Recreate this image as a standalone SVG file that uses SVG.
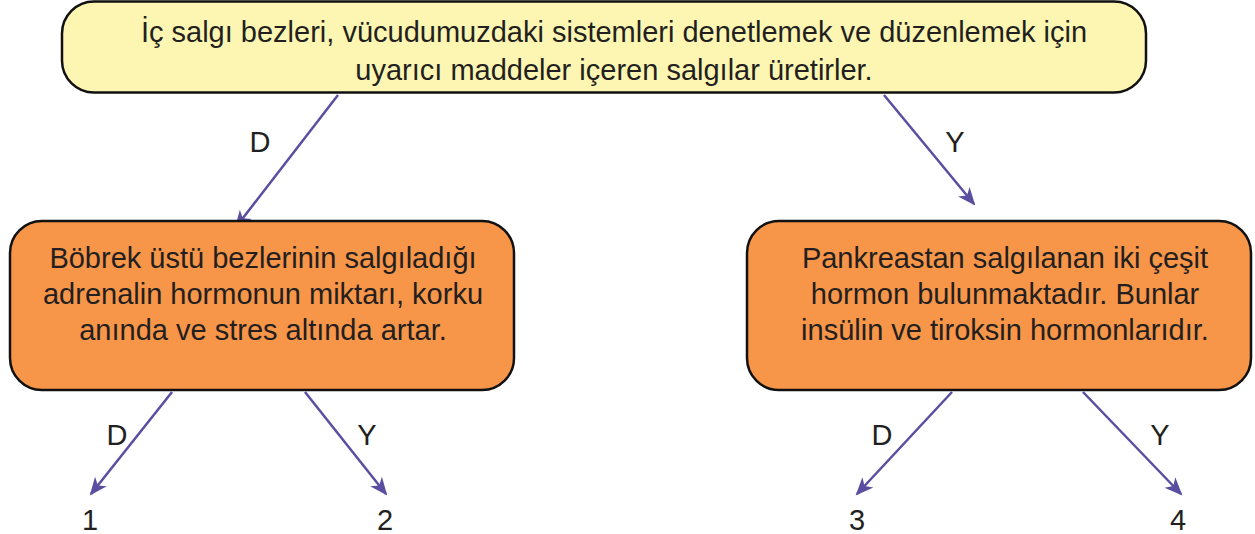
<svg xmlns="http://www.w3.org/2000/svg" width="1255" height="534" viewBox="0 0 1255 534">
<style>
text{font-family:"Liberation Sans",Arial,sans-serif;fill:#231f20}
.box{stroke:#111;stroke-width:2.5}
.t{font-size:29px;text-anchor:middle}
.l{font-size:29px;text-anchor:middle}
.c{stroke:#5a4ea0;stroke-width:2.5;fill:none;marker-end:url(#ah)}
</style>
<defs>
<marker id="ah" viewBox="-18 -8 20 16" refX="0" refY="0" markerWidth="20" markerHeight="16" markerUnits="userSpaceOnUse" orient="auto" overflow="visible">
<path d="M2,0 L-16,-7.5 L-11,0 L-16,7.5 Z" fill="#5a4ea0"/>
</marker>
</defs>
<g id="connectors">
<line class="c" x1="338" y1="95" x2="236" y2="227"/>
<line class="c" x1="884" y1="95" x2="974" y2="204"/>
<line class="c" x1="172" y1="392" x2="91" y2="494"/>
<line class="c" x1="305" y1="392" x2="386" y2="494"/>
<line class="c" x1="952" y1="392" x2="857" y2="494"/>
<line class="c" x1="1083" y1="392" x2="1181" y2="494"/>
<text class="l" x="260" y="152">D</text>
<text class="l" x="955" y="152">Y</text>
<text class="l" x="117" y="445">D</text>
<text class="l" x="367" y="445">Y</text>
<text class="l" x="882" y="445">D</text>
<text class="l" x="1160" y="445">Y</text>
</g>
<g id="top">
<rect class="box" x="62" y="1.5" width="1084" height="91" rx="32" fill="#fdf6b3"/>
<text class="t" x="614" y="42">İç salgı bezleri, vücudumuzdaki sistemleri denetlemek ve düzenlemek için</text>
<text class="t" x="614" y="80">uyarıcı maddeler içeren salgılar üretirler.</text>
</g>
<g id="left">
<rect class="box" x="10" y="221" width="504" height="169" rx="32" fill="#f79548"/>
<text class="t" x="263" y="268">Böbrek üstü bezlerinin salgıladığı</text>
<text class="t" x="263" y="304">adrenalin hormonun miktarı, korku</text>
<text class="t" x="263" y="340">anında ve stres altında artar.</text>
</g>
<g id="right">
<rect class="box" x="747" y="221" width="504" height="169" rx="32" fill="#f79548"/>
<text class="t" x="1005" y="268">Pankreastan salgılanan iki çeşit</text>
<text class="t" x="1005" y="304">hormon bulunmaktadır. Bunlar</text>
<text class="t" x="1005" y="340">insülin ve tiroksin hormonlarıdır.</text>
</g>
<g id="n1"><text class="l" x="90" y="530">1</text></g>
<g id="n2"><text class="l" x="385" y="530">2</text></g>
<g id="n3"><text class="l" x="857" y="530">3</text></g>
<g id="n4"><text class="l" x="1178" y="530">4</text></g>
</svg>
